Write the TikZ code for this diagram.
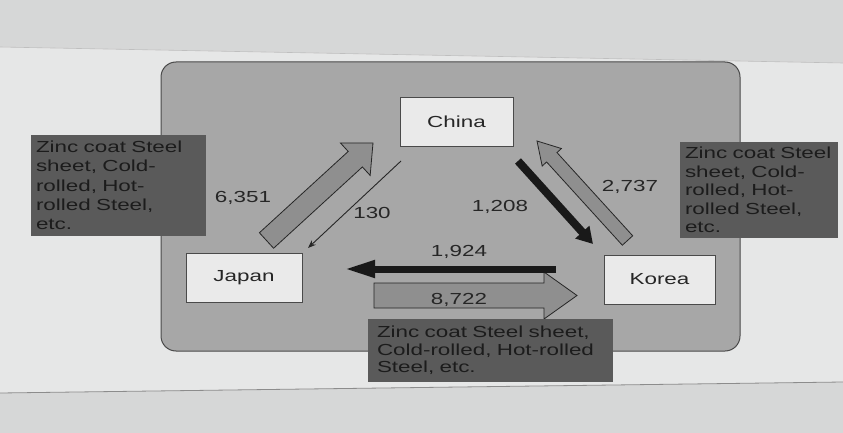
\documentclass[tikz,border=0pt]{standalone}
\usepackage{fontspec}
\setmainfont{Liberation Sans}[FakeStretch=1.4]
\usetikzlibrary{calc,arrows.meta}
\definecolor{bgout}{HTML}{D6D7D7}
\definecolor{paper}{HTML}{E6E7E7}
\definecolor{panelfill}{HTML}{A7A7A7}
\definecolor{panelline}{HTML}{4A4A4A}
\definecolor{boxfill}{HTML}{EAEAEA}
\definecolor{darkfill}{HTML}{5A5A5A}
\definecolor{darktext}{HTML}{1C1C1C}
\definecolor{arrfill}{HTML}{8F8F8F}
\definecolor{inktext}{HTML}{262626}
\tikzset{
  country/.style={draw=panelline, line width=0.9pt, fill=boxfill, text=inktext,
    minimum width=#1, minimum height=49pt, inner sep=0pt,
    font=\fontsize{16}{19}\selectfont},
  country/.default=113pt,
  darkbox/.style={fill=darkfill, text=darktext, inner sep=0pt, align=left},
  numlabel/.style={text=inktext, font=\fontsize{16}{19}\selectfont, inner sep=0pt},
  blockarr/.style={draw=black!85, line width=0.8pt, fill=arrfill, line join=miter},
  blackarr/.style={draw=black!90},
}
\newcommand\blockarrow[5]{%
  \coordinate (bh) at ($(#2)!#5!(#1)$);
  \draw[blockarr] ($(#1)!#3!90:(#2)$) -- ($(bh)!#3!90:(#2)$) -- ($(bh)!#4!90:(#2)$)
    -- (#2) -- ($(bh)!#4!-90:(#2)$) -- ($(bh)!#3!-90:(#2)$) -- ($(#1)!#3!-90:(#2)$) -- cycle;}
\begin{document}
\begin{tikzpicture}[x=1pt,y=-1pt]
  % background
  \fill[bgout] (0,0) rectangle (843,433);
  \useasboundingbox (0,0) rectangle (843,433);
  \fill[paper] (0,47) -- (843,63) -- (843,382) -- (0,393) -- cycle;
  \draw[black!45, line width=0.8pt] (0,393) -- (843,382);
  \draw[black!25, line width=0.6pt] (0,47) -- (843,63);
  % panel
  \draw[fill=panelfill, draw=panelline, line width=1pt, rounded corners=15pt]
    (161,62) rectangle (740,351);
  % countries
  \node[country] (china) at (456.5,121.5) {China};
  \node[country=116pt] (japan) at (244,278) {Japan};
  \node[country=111pt] (korea) at (659.5,279.5) {Korea};
  % arrow end points
  \coordinate (a1t) at (266.5,240.5); \coordinate (a1h) at (373,143);
  \coordinate (a2s) at (401,161);     \coordinate (a2e) at (308,248);
  \coordinate (a3s) at (518,161);     \coordinate (a3e) at (593,244);
  \coordinate (a4t) at (627.5,240.5); \coordinate (a4h) at (537,141);
  \coordinate (a6t) at (374,295.5);   \coordinate (a6h) at (577,295.5);
  \coordinate (a5s) at (556,269);     \coordinate (a5e) at (344,269);
  % arrows
  \blockarrow{a1t}{a1h}{10.5pt}{22pt}{24pt}
  \draw[black!85, line width=0.9pt, -{Stealth[length=8pt,width=6pt]}] (a2s) -- (a2e);
  \draw[blackarr, line width=8pt, -{Triangle[length=16pt,width=18pt]}] (a3s) -- (a3e);
  \blockarrow{a4t}{a4h}{7pt}{13pt}{22pt}
  \blockarrow{a6t}{a6h}{12.5pt}{23.5pt}{33pt}
  \draw[blackarr, line width=7pt, -{Triangle[length=31pt,width=16pt]}] (a5s) -- (a5e);
  % numbers
  \node[numlabel] (n1) at (243,198) {6,351};
  \node[numlabel] (n2) at (372,213) {130};
  \node[numlabel] (n3) at (500,207) {1,208};
  \node[numlabel] (n4) at (630,187) {2,737};
  \node[numlabel] (n5) at (459,252) {1,924};
  \node[numlabel] (n6) at (459,300) {8,722};
  % dark label boxes
  \node[darkbox, minimum width=175pt, minimum height=101pt, text width=165pt,
        font=\fontsize{16}{19.25}\selectfont] (lbox) at (118.5,185.5)
    {Zinc coat Steel\\sheet, Cold-\\rolled, Hot-\\rolled Steel,\\etc.};
  \node[darkbox, minimum width=158pt, minimum height=96pt, text width=148pt,
        font=\fontsize{16}{18.5}\selectfont] (rbox) at (759,190)
    {Zinc coat Steel\\sheet, Cold-\\rolled, Hot-\\rolled Steel,\\etc.};
  \node[darkbox, minimum width=245pt, minimum height=63pt, text width=227pt,
        font=\fontsize{16}{17.5}\selectfont] (bbox) at (490.5,350.5)
    {Zinc coat Steel sheet,\\Cold-rolled, Hot-rolled\\Steel, etc.};
\end{tikzpicture}
\end{document}
